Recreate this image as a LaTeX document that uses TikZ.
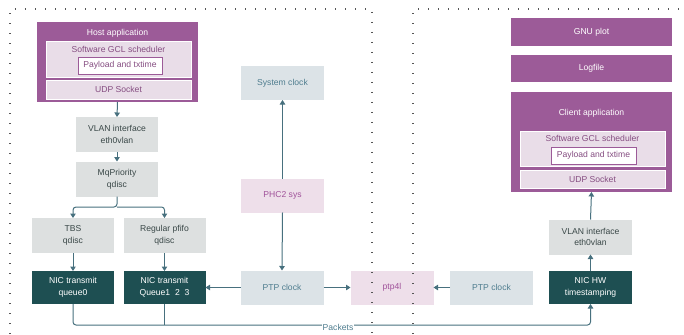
\documentclass[tikz,border=0pt]{standalone}
\usepackage{fontspec}
\setmainfont{Liberation Sans}
\usetikzlibrary{arrows.meta}
\definecolor{purp}{HTML}{9C5B98}
\definecolor{lpurp}{HTML}{E9DDE8}
\definecolor{gbox}{HTML}{DDE0E0}
\definecolor{gtext}{HTML}{3A4848}
\definecolor{teal}{HTML}{1E4F52}
\definecolor{cbox}{HTML}{DCE3E7}
\definecolor{ctext}{HTML}{4F7D8F}
\definecolor{pbox}{HTML}{EEDFEA}
\definecolor{ptext}{HTML}{A0529A}
\definecolor{arr}{HTML}{47707E}
\definecolor{dotc}{HTML}{555555}
\begin{document}
\begin{tikzpicture}[x=1pt,y=-1pt,
  every node/.style={inner sep=0pt,outer sep=0pt,align=center,font=\fontsize{8.6}{11.8}\selectfont},
  purpbox/.style={fill=purp,draw=none,text=white},
  inbox/.style={fill=lpurp,draw=white,line width=0.6pt,text=purp!85!black},
  paybox/.style={fill=white,draw=purp,line width=0.8pt,text=purp!85!black},
  graybox/.style={fill=gbox,draw=none,text=gtext,minimum width=82pt,minimum height=35pt},
  tealbox/.style={fill=teal,draw=none,text=white,minimum width=82pt,minimum height=33pt},
  clockbox/.style={fill=cbox,draw=none,text=ctext,minimum width=83pt,minimum height=34pt},
  pinkbox/.style={fill=pbox,draw=none,text=ptext,minimum width=83pt,minimum height=34pt},
  conn/.style={draw=arr,line width=1pt},
  tip/.style={-{Triangle[width=5.5pt,length=4.5pt]}},
  dotline/.style={draw=dotc,line width=1.1pt,dash pattern=on 1.1pt off 8.9pt}
]
\useasboundingbox (0,0) rectangle (684,334);

% Host application
\node[purpbox,minimum width=161pt,minimum height=80pt] (host) at (117.5,62) {};
\node[text=white] (hostt) at (117.5,33) {Host application};
\node[inbox,minimum width=145pt,minimum height=36pt] (hgcl) at (118.5,59) {};
\node[text=purp!85!black] (hgclt) at (118.5,49) {Software GCL scheduler};
\node[paybox,minimum width=84pt,minimum height=17pt] (hpay) at (120,65.5) {Payload and txtime};
\node[inbox,minimum width=145pt,minimum height=19pt] (hudp) at (118.5,89.5) {UDP Socket};

% left stack
\node[graybox] (vlanl) at (117,134.5) {VLAN interface\\eth0vlan};
\node[graybox] (mq) at (117,179) {MqPriority\\qdisc};
\node[graybox] (tbs) at (73,235.5) {TBS\\qdisc};
\node[graybox] (pfifo) at (164.5,235.5) {Regular pfifo\\qdisc};
\node[tealbox] (q0) at (73,287.5) {NIC transmit\\queue0};
\node[tealbox] (q1) at (164.5,287.5) {NIC transmit\\Queue1\ \ 2\ \ 3};

% clocks
\node[clockbox] (sys) at (282.5,83) {System clock};
\node[pinkbox] (phc) at (282.5,195.5) {PHC2 sys};
\node[clockbox] (ptpl) at (282,287.5) {PTP clock};
\node[pinkbox] (ptp4l) at (392,287.5) {ptp4l};
\node[clockbox] (ptpr) at (491.5,287.5) {PTP clock};

% right side
\node[tealbox,minimum width=83pt] (nichw) at (590.5,287.5) {NIC HW\\timestamping};
\node[graybox,minimum width=83pt] (vlanr) at (590.5,237) {VLAN interface\\eth0vlan};
\node[purpbox,minimum width=161pt,minimum height=28pt] (gnu) at (591.5,32) {GNU plot};
\node[purpbox,minimum width=161pt,minimum height=27pt] (log) at (591.5,68.5) {Logfile};
\node[purpbox,minimum width=161pt,minimum height=100pt] (client) at (591.5,142) {};
\node[text=white] (clientt) at (591.5,113) {Client application};
\node[inbox,minimum width=145pt,minimum height=35pt] (cgcl) at (592.5,148.5) {};
\node[text=purp!85!black] (cgclt) at (592.5,138) {Software GCL scheduler};
\node[paybox,minimum width=85pt,minimum height=17pt] (cpay) at (593.5,155.5) {Payload and txtime};
\node[inbox,minimum width=145pt,minimum height=18pt] (cudp) at (592.5,179) {UDP Socket};

% connectors
\draw[conn,tip] (host.south) -- (vlanl.north);
\draw[conn,tip] (vlanl.south) -- (mq.north);
\coordinate (br) at (117,207);
\draw[conn,tip,rounded corners=3pt] (mq.south) -- (br) -| (tbs.north);
\draw[conn,tip,rounded corners=3pt] (br) -| (pfifo.north);
\draw[conn,tip] (tbs.south) -- (q0.north);
\draw[conn,tip] (pfifo.south) -- (q1.north);
\draw[conn,tip] (phc.north) -- (sys.south);
\draw[conn,tip] (phc.south) -- (ptpl.north);
\draw[conn,tip] (ptpl.west) -- (q1.east);
\draw[conn,tip] (ptpl.east) -- (ptp4l.west);
\draw[conn,tip] (ptpr.west) -- (ptp4l.east);
\draw[conn,tip] (nichw.north) -- (vlanr.south);
\draw[conn,tip] (vlanr.north) -- (client.south);
\coordinate (pk0) at (73,325);
\coordinate (pk1) at (164.5,325);
\draw[conn,tip,rounded corners=3pt] (q0.south) -- (pk0) -| (nichw.south);
\draw[conn] (q1.south) -- (pk1);
\node[fill=white,text=ctext,inner xsep=1pt,inner ysep=1pt] (packets) at (338,327) {Packets};

% dotted frames
\draw[dotline] (10,334) -- (10,9) -- (372,9) -- (372,334);
\draw[dotline] (413,334) -- (413,9) -- (684,9);
\end{tikzpicture}
\end{document}
